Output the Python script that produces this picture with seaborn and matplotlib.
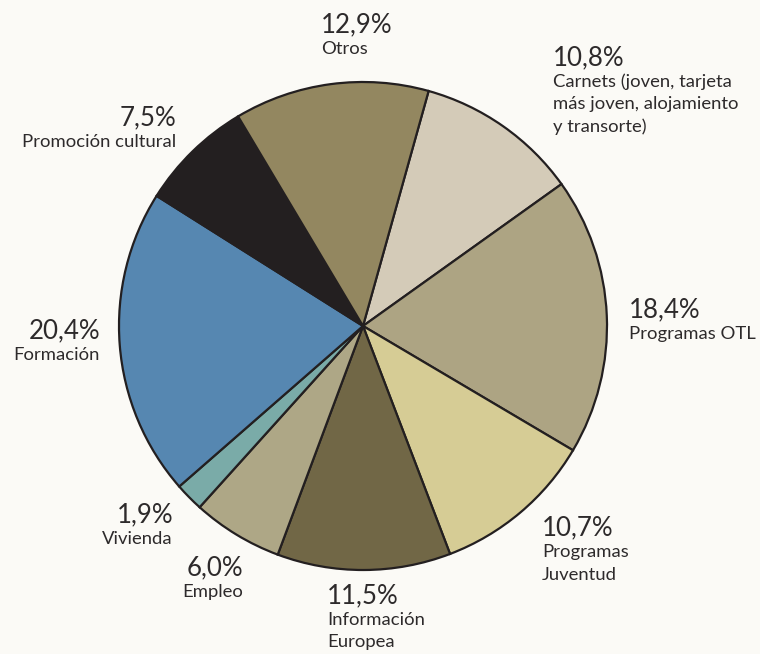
import matplotlib
matplotlib.use("Agg")
import matplotlib.pyplot as plt
import seaborn as sns

# ---- data ----
categories = ["Carnets (joven, tarjeta\nmás joven, alojamiento\ny transorte)",
              "Programas OTL", "Programas\nJuventud", "Información\nEuropea",
              "Empleo", "Vivienda", "Formación", "Promoción cultural", "Otros"]
values = [10.8, 18.4, 10.7, 11.5, 6.0, 1.9, 20.4, 7.5, 12.9]
pct_labels = ["10,8%", "18,4%", "10,7%", "11,5%", "6,0%", "1,9%", "20,4%", "7,5%", "12,9%"]
colors = ["#d4cbb8", "#ada483", "#d6cc95", "#716746", "#aea786",
          "#7aaba8", "#5687b1", "#231f20", "#938760"]

# ---- layout (pixels): (x, baseline of pct, alignment) ----
label_pos = [(553, 65, "left"), (629, 317, "left"), (542, 535, "left"),
             (327, 603, "left"), (243, 575, "right"), (173, 522, "right"),
             (100, 338, "right"), (176, 125, "right"), (321, 32, "left")]

W, H = 760, 654
BG = "#fbfaf6"
EDGE = "#231f20"
TXT = "#2d2a2b"

sns.set_theme(style="white")
plt.rcParams["font.family"] = ["Lato", "DejaVu Sans"]

fig = plt.figure(figsize=(W / 100, H / 100), dpi=100, facecolor=BG)
ax = fig.add_axes([0, 0, 1, 1])
ax.set_facecolor(BG)

cx, cy, R = 363, 326, 244
ax.pie(values, colors=colors, startangle=74.4, counterclock=False,
       radius=1.0, center=(0, 0),
       wedgeprops=dict(edgecolor=EDGE, linewidth=1.6))
ax.set_xlim(-cx / R, (W - cx) / R)
ax.set_ylim(-(H - cy) / R, cy / R)
ax.set_aspect("auto")
ax.axis("off")

line_px = 22.5
for (px, py, ha), pct, cat in zip(label_pos, pct_labels, categories):
    fig.text(px / W, 1 - py / H, pct, ha=ha, va="baseline",
             fontsize=18.6, color=TXT, fontweight="normal")
    for i, line in enumerate(cat.split("\n")):
        fig.text(px / W, 1 - (py + 22 + i * line_px) / H, line, ha=ha,
                 va="baseline", fontsize=13.3, color=TXT, fontweight="normal")

fig.savefig("out.png", dpi=100, facecolor=BG)
